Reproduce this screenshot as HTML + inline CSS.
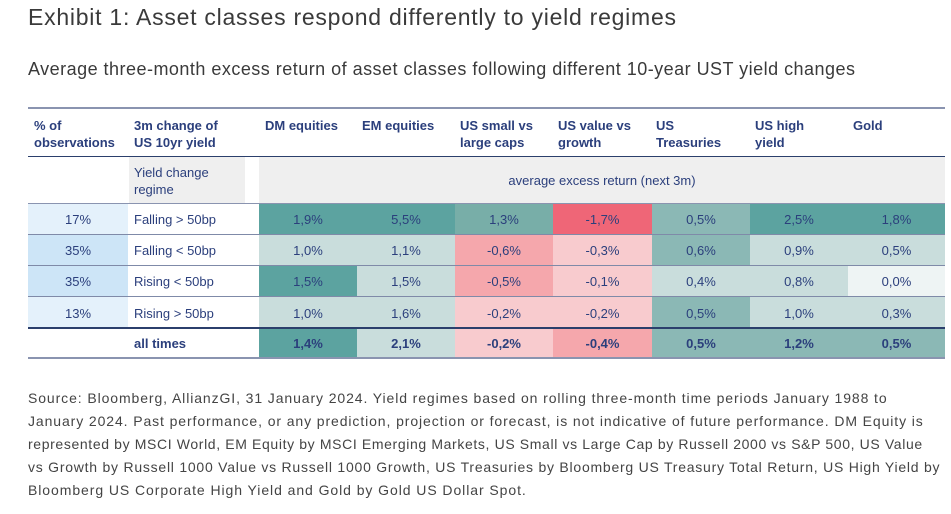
<!DOCTYPE html><html><head><style>
body{margin:0;width:951px;height:514px;background:#fff;font-family:"Liberation Sans",sans-serif;color:#2b3a6b;position:relative;overflow:hidden}
.a{position:absolute}
h1{position:absolute;left:28px;top:4px;margin:0;font-size:23px;font-weight:normal;color:#3a3a3a;letter-spacing:0.75px;white-space:nowrap}
.sub{left:28px;top:59px;font-size:18px;color:#3a3a3a;letter-spacing:0.48px;white-space:nowrap}
.c{position:absolute;display:flex;align-items:center;justify-content:center;font-size:13px;color:#2b3f7c}
.h{position:absolute;font-size:13px;font-weight:bold;color:#2b3f7c;line-height:17px}
.ln{position:absolute;left:28px;width:917px;background:#2b3f6c}
.ft{left:28px;top:387px;font-size:14px;line-height:23px;color:#444;white-space:nowrap}
.ft span{display:block}
</style></head><body>
<h1>Exhibit 1: Asset classes respond differently to yield regimes</h1>
<div class="a sub">Average three-month excess return of asset classes following different 10-year UST yield changes</div>
<div class="ln" style="top:107px;height:2px;background:#8a94b0"></div>
<div class="h" style="left:34px;top:117px">% of<br>observations</div>
<div class="h" style="left:134px;top:117px">3m change of<br>US 10yr yield</div>
<div class="h" style="left:265px;top:117px">DM equities</div>
<div class="h" style="left:362px;top:117px">EM equities</div>
<div class="h" style="left:460px;top:117px">US small vs<br>large caps</div>
<div class="h" style="left:558px;top:117px">US value vs<br>growth</div>
<div class="h" style="left:656px;top:117px">US<br>Treasuries</div>
<div class="h" style="left:755px;top:117px">US high<br>yield</div>
<div class="h" style="left:853px;top:117px">Gold</div>
<div class="ln" style="top:156px;height:1px"></div>
<div class="a" style="left:129px;top:157px;width:116px;height:46px;background:#efefef"></div>
<div class="a" style="left:259px;top:157px;width:686px;height:46px;background:#efefef"></div>
<div class="a" style="left:134px;top:164px;font-size:13px;line-height:17px;color:#2b3f7c">Yield change<br>regime</div>
<div class="c" style="left:259px;top:157px;width:686px;height:46px">average excess return (next 3m)</div>
<div id="t"></div>
<div class="ln" style="top:203px;height:1px;background:#8a94b0"></div>
<div class="ln" style="top:234px;height:1px;background:#7f8aa8"></div>
<div class="ln" style="top:265px;height:1px;background:#7f8aa8"></div>
<div class="ln" style="top:296px;height:1px;background:#7f8aa8"></div>
<div class="ln" style="top:327px;height:2px"></div>
<div class="ln" style="top:357px;height:2px;background:#8a94b0"></div>
<div class="a ft">
<span style="letter-spacing:0.9px">Source: Bloomberg, AllianzGI, 31 January 2024. Yield regimes based on rolling three-month time periods January 1988 to</span>
<span style="letter-spacing:0.9px">January 2024. Past performance, or any prediction, projection or forecast, is not indicative of future performance. DM Equity is</span>
<span style="letter-spacing:0.63px">represented by MSCI World, EM Equity by MSCI Emerging Markets, US Small vs Large Cap by Russell 2000 vs S&amp;P 500, US Value</span>
<span style="letter-spacing:0.76px">vs Growth by Russell 1000 Value vs Russell 1000 Growth, US Treasuries by Bloomberg US Treasury Total Return, US High Yield by</span>
<span style="letter-spacing:0.93px">Bloomberg US Corporate High Yield and Gold by Gold US Dollar Spot.</span>
</div>
<script>
var D='#5ca3a0',M='#8bb8b5',L='#c9dddc',T='#78aea8',R='#ef6677',P='#f5a7ac',Q='#f8cbce',W='#eef4f4';
var rows=[
['17%','Falling > 50bp','#e4f1fb',[['1,9%',D],['5,5%',D],['1,3%',T],['-1,7%',R],['0,5%',M],['2,5%',D],['1,8%',D]]],
['35%','Falling < 50bp','#cde5f7',[['1,0%',L],['1,1%',L],['-0,6%',P],['-0,3%',Q],['0,6%',M],['0,9%',L],['0,5%',L]]],
['35%','Rising < 50bp','#cde5f7',[['1,5%',D],['1,5%',L],['-0,5%',P],['-0,1%',Q],['0,4%',L],['0,8%',L],['0,0%',W]]],
['13%','Rising > 50bp','#e4f1fb',[['1,0%',L],['1,6%',L],['-0,2%',Q],['-0,2%',Q],['0,5%',M],['1,0%',L],['0,3%',L]]],
['','all times','#fff',[['1,4%',D],['2,1%',L],['-0,2%',Q],['-0,4%',P],['0,5%',M],['1,2%',M],['0,5%',M]]]];
var xs=[259,357,455,553,652,750,848,945],ys=[204,235,266,297,329,357],h='';
rows.forEach(function(r,i){var y=ys[i],hh=ys[i+1]-y,b=i==4?'font-weight:bold;':'';
h+='<div class="c" style="left:28px;top:'+y+'px;width:100px;height:'+hh+'px;background:'+r[2]+'">'+r[0]+'</div>';
h+='<div class="c" style="left:134px;top:'+y+'px;height:'+hh+'px;justify-content:flex-start;'+b+'">'+r[1]+'</div>';
r[3].forEach(function(v,j){h+='<div class="c" style="left:'+xs[j]+'px;top:'+y+'px;width:'+(xs[j+1]-xs[j])+'px;height:'+hh+'px;background:'+v[1]+';'+b+'">'+v[0]+'</div>';});});
document.getElementById('t').innerHTML=h;
</script>
</body></html>
